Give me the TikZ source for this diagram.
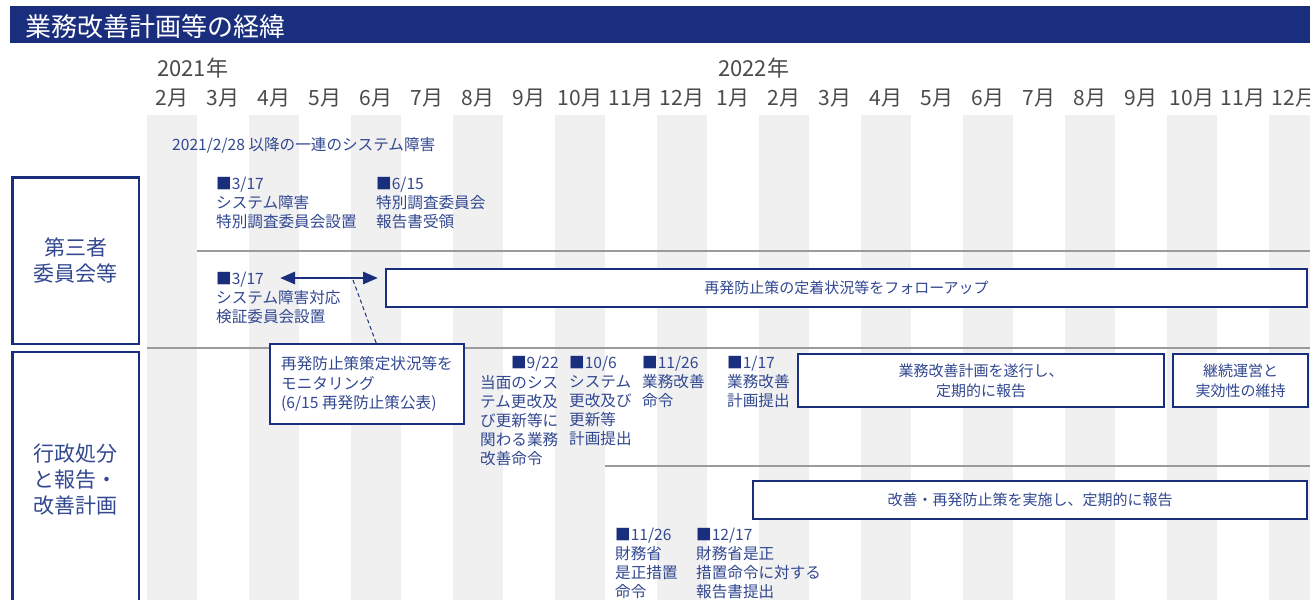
\documentclass[tikz,border=0pt]{standalone}
\usepackage{fontspec}
\setmainfont{Noto Sans CJK JP}
\usetikzlibrary{arrows.meta,calc}
\definecolor{navy}{RGB}{26,46,126}
\definecolor{txtblue}{RGB}{50,72,145}
\definecolor{stripe}{RGB}{240,240,240}
\definecolor{mgray}{RGB}{75,75,75}
\definecolor{rgray}{RGB}{155,155,155}
\newcommand{\evsq}{{\color{navy}■}}
\begin{document}
\begin{tikzpicture}[x=1pt,y=-1pt,
  evt/.style={anchor=north west,inner sep=0pt,align=left,text=txtblue,font=\fontsize{15.6}{19}\selectfont},
  bx/.style={draw=navy,line width=1.5pt,fill=white,text=txtblue,align=center,inner sep=0pt,font=\fontsize{15}{20}\selectfont},
  rowlab/.style={draw=navy,line width=2.5pt,fill=white,text=txtblue,align=center,inner sep=0pt,font=\fontsize{21}{26}\selectfont},
  monthlab/.style={anchor=base,inner sep=0pt,text=mgray,font=\fontsize{21}{24}\selectfont},
  rule/.style={draw=rgray,line width=1.5pt},
  dbl/.style={navy,line width=2.8pt,{Triangle[length=15pt,width=12pt]}-{Triangle[length=15pt,width=12pt]}},
  lead/.style={navy,line width=1pt,dash pattern=on 4pt off 3pt}
]
\useasboundingbox (0,0) rectangle (1310,600);
\fill[white] (0,0) rectangle (1310,600);

% title bar
\node[fill=navy,anchor=north west,inner sep=0pt,minimum width=1300,minimum height=37] (bar) at (10,6) {};
\node[anchor=base west,inner sep=0pt,text=white,font=\fontsize{26}{30}\selectfont] (title) at (25,36) {業務改善計画等の経緯};

% month stripes
\foreach \j in {0,...,11}{
  \fill[stripe] (147+102*\j,115) rectangle (197+102*\j,600);
}

% years and months
\node[monthlab,anchor=base west,font=\fontsize{22}{24}\selectfont] (y2021) at (157,76) {2021年};
\node[monthlab,anchor=base west,font=\fontsize{22}{24}\selectfont] (y2022) at (718,76) {2022年};
\foreach \m [count=\k from 0] in {2,3,4,5,6,7,8,9,10,11,12,1,2,3,4,5,6,7,8,9,10,11,12}{
  \node[monthlab] (m\k) at (172+51*\k,105) {\m 月};
}

% row rules
\draw[rule] (197,251) -- (1310,251);
\draw[rule] (147,348) -- (1310,348);
\draw[rule] (605,466) -- (1310,466);

% row labels
\node[rowlab,minimum width=126.5,minimum height=166.5] (row1) at (75.5,260.5) {第三者\\委員会等};
\node[rowlab,minimum width=126.5,minimum height=256] (row2) at (75.5,480) {行政処分\\と報告・\\改善計画};

% header note
\node[evt] (note) at (172,137) {2021/2/28 以降の一連のシステム障害};

% events, third-party row
\node[evt] (e1) at (216,177) {\evsq 3/17\\システム障害\\特別調査委員会設置};
\node[evt] (e2) at (376,177) {\evsq 6/15\\特別調査委員会\\報告書受領};
\node[evt] (e3) at (216,272) {\evsq 3/17\\システム障害対応\\検証委員会設置};

% follow-up box and arrow
\node[bx,minimum width=921,minimum height=38] (follow) at (846.5,288) {再発防止策の定着状況等をフォローアップ};
\coordinate (al) at (280,278);
\coordinate (ar) at (378,278);
\draw[dbl] (al) -- (ar);

% monitoring callout
\node[bx,align=left,minimum width=194,minimum height=80,font=\fontsize{15.6}{19.5}\selectfont] (mon) at (367,384) {再発防止策策定状況等を\\モニタリング\\(6/15 再発防止策公表)};
\coordinate (tap) at (353,280);
\path (mon.north west) ++(107,0) coordinate (monin);
\draw[lead] (tap) -- (monin);

% events, administrative row
\node[evt,anchor=north east] (e4d) at (559,356) {\evsq 9/22};
\node[evt] (e4) at (480,375) {当面のシス\\テム更改及\\び更新等に\\関わる業務\\改善命令};
\node[evt] (e5) at (569,356) {\evsq 10/6\\システム\\更改及び\\更新等\\計画提出};
\node[evt] (e6) at (642,356) {\evsq 11/26\\業務改善\\命令};
\node[evt] (e7) at (727,356) {\evsq 1/17\\業務改善\\計画提出};

\node[bx,minimum width=366,minimum height=53] (plan) at (981,380.5) {業務改善計画を遂行し、\\定期的に報告};
\node[bx,minimum width=135,minimum height=53] (keep) at (1240.5,380.5) {継続運営と\\実効性の維持};
\node[bx,minimum width=554,minimum height=38] (impl) at (1030,500) {改善・再発防止策を実施し、定期的に報告};

\node[evt] (e8) at (615,528) {\evsq 11/26\\財務省\\是正措置\\命令};
\node[evt] (e9) at (696,528) {\evsq 12/17\\財務省是正\\措置命令に対する\\報告書提出};
\end{tikzpicture}
\end{document}
